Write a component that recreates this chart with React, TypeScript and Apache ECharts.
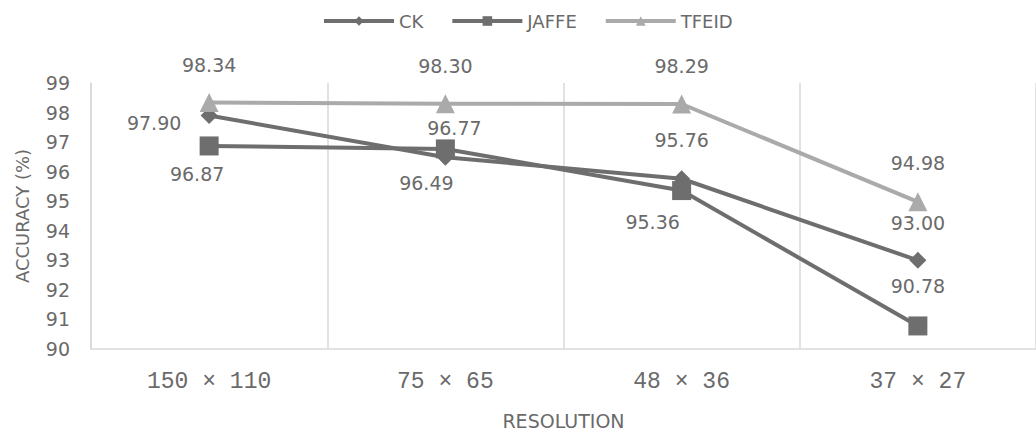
import React, { useEffect, useRef } from "react";
import * as echarts from "echarts";

// Resolutions on the category axis
const resolutions = ["150 × 110", "75 × 65", "48 × 36", "37 × 27"];

// Recognition accuracy (%) per dataset
const ckValues = [97.9, 96.49, 95.76, 93.0];
const jaffeValues = [96.87, 96.77, 95.36, 90.78];
const tfeidValues = [98.34, 98.3, 98.29, 94.98];

// Where each value label sits relative to its marker
const ckLabelOffsets = [[-55, 7], [-19, 26], [0, -39], [0, -37]];
const jaffeLabelOffsets = [[-12, 28], [9, -21], [-29, 31], [0, -40]];
const tfeidLabelOffsets = [[0, -38], [0, -38], [0, -38], [0, -39]];

const DARK = "#6e6e6e";
const LIGHT = "#aaaaaa";
const TEXT = "#6a6a6a";
const GRID = "#d9d9d9";
const FONT = "DejaVu Sans";

function withLabels(values: number[], offsets: number[][]) {
  return values.map((v, i) => ({
    value: v,
    label: { position: "inside", offset: offsets[i] },
  }));
}

export default function App() {
  const ref = useRef<HTMLDivElement>(null);

  useEffect(() => {
    if (!ref.current) return;
    const chart = echarts.init(ref.current, null, { renderer: "svg" });

    const labelStyle = {
      show: true,
      color: TEXT,
      fontFamily: FONT,
      fontSize: 19,
      formatter: (p: any) => Number(p.value).toFixed(2),
    };

    chart.setOption({
      animation: false,
      backgroundColor: "#ffffff",
      textStyle: { fontFamily: FONT },
      legend: {
        top: 12,
        left: 322,
        padding: 0,
        itemWidth: 70,
        itemHeight: 12,
        itemGap: 27,
        lineStyle: { width: 4 },
        textStyle: { color: TEXT, fontSize: 18, fontFamily: FONT },
        data: ["CK", "JAFFE", "TFEID"],
      },
      grid: { left: 91, top: 83, right: -11, bottom: 81, containLabel: false },
      xAxis: {
        type: "category",
        data: resolutions,
        boundaryGap: true,
        name: "RESOLUTION",
        nameLocation: "middle",
        nameGap: 62,
        nameTextStyle: { color: TEXT, fontSize: 19, fontFamily: FONT },
        axisLine: { show: true, lineStyle: { color: GRID, width: 1.5 } },
        axisTick: { show: false },
        axisLabel: {
          color: TEXT,
          fontFamily: "Liberation Mono",
          fontSize: 23,
          margin: 21,
        },
        splitLine: { show: true, lineStyle: { color: GRID, width: 1.5 } },
      },
      yAxis: {
        type: "value",
        min: 90,
        max: 99,
        interval: 1,
        name: "ACCURACY (%)",
        nameLocation: "middle",
        nameGap: 60,
        nameTextStyle: { color: TEXT, fontSize: 18, fontFamily: FONT },
        axisLine: { show: true, lineStyle: { color: GRID, width: 1.5 } },
        axisTick: { show: false },
        axisLabel: { color: TEXT, fontFamily: FONT, fontSize: 19, margin: 21 },
        splitLine: { show: false },
      },
      series: [
        {
          name: "CK",
          type: "line",
          data: withLabels(ckValues, ckLabelOffsets),
          symbol: "diamond",
          symbolSize: 17,
          itemStyle: { color: DARK },
          lineStyle: { color: DARK, width: 4 },
          label: labelStyle,
        },
        {
          name: "JAFFE",
          type: "line",
          data: withLabels(jaffeValues, jaffeLabelOffsets),
          symbol: "rect",
          symbolSize: 19,
          itemStyle: { color: DARK },
          lineStyle: { color: DARK, width: 4 },
          label: labelStyle,
        },
        {
          name: "TFEID",
          type: "line",
          data: withLabels(tfeidValues, tfeidLabelOffsets),
          symbol: "triangle",
          symbolSize: 19,
          itemStyle: { color: LIGHT },
          lineStyle: { color: LIGHT, width: 4 },
          label: labelStyle,
        },
      ],
    });

    return () => chart.dispose();
  }, []);

  return (
    <div
      ref={ref}
      style={{ position: "fixed", left: 0, top: 0, width: 1036, height: 435, overflow: "hidden" }}
    />
  );
}
